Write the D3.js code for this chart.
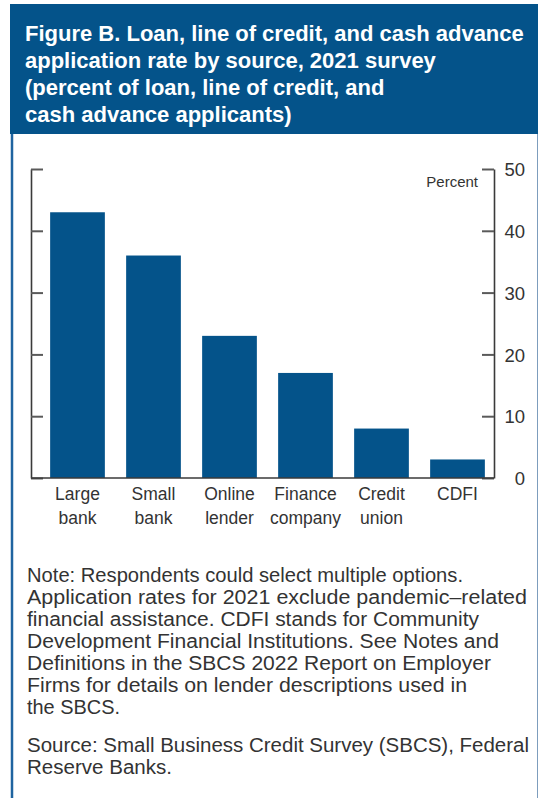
<!DOCTYPE html>
<html>
<head>
<meta charset="utf-8">
<script src="https://cdn.jsdelivr.net/npm/d3@7"></script>
<style>
  html, body { margin: 0; padding: 0; background: #fff; }
  svg { display: block; }
  .cond { font-family: "Liberation Sans Narrow", "Arial Narrow", "Liberation Sans", sans-serif; }
</style>
</head>
<body>
<svg id="chart" width="540" height="798"></svg>
<script>
// Application rate by credit source, 2021 survey (percent of applicants)
const categories = [
  ["Large", "bank"],
  ["Small", "bank"],
  ["Online", "lender"],
  ["Finance", "company"],
  ["Credit", "union"],
  ["CDFI"]
];
const values = [43, 36, 23, 17, 8, 3];
const yTicks = [0, 10, 20, 30, 40, 50];

const titleLines = [
  "Figure B. Loan, line of credit, and cash advance",
  "application rate by source, 2021 survey",
  "(percent of loan, line of credit, and",
  "cash advance applicants)"
];
const noteLines = [
  "Note: Respondents could select multiple options.",
  "Application rates for 2021 exclude pandemic\u2013related",
  "financial assistance. CDFI stands for Community",
  "Development Financial Institutions. See Notes and",
  "Definitions in the SBCS 2022 Report on Employer",
  "Firms for details on lender descriptions used in",
  "the SBCS."
];
const sourceLines = [
  "Source: Small Business Credit Survey (SBCS), Federal",
  "Reserve Banks."
];

// Set widths (px) of the wrapped footnote lines
const noteLineWidths = [436, 500, 452, 472, 464, 440, 93];
const sourceLineWidths = [502, 145];

const BLUE = "#04538a";
const svg = d3.select("#chart");

// Panel frame and title banner
svg.append("rect").attr("x", 10).attr("y", 4).attr("width", 528).attr("height", 130).attr("fill", BLUE);
svg.append("line").attr("x1", 12).attr("x2", 12).attr("y1", 134).attr("y2", 798)
  .attr("stroke", "#1f64a0").attr("stroke-width", 2.5);
svg.append("line").attr("x1", 537.5).attr("x2", 537.5).attr("y1", 134).attr("y2", 798)
  .attr("stroke", "#7d9dbd").attr("stroke-width", 1);

svg.append("g").selectAll("text").data(titleLines).join("text")
  .attr("x", 25).attr("y", (d, i) => 40.5 + i * 27)
  .attr("fill", "#fff")
  .style("font-family", "'Liberation Sans', Arial, sans-serif")
  .style("font-weight", "bold").style("font-size", "22px")
  .text(d => d);

// Plot geometry
const plotLeft = 31, plotRight = 494, plotTop = 169, plotBottom = 478;

const x = d3.scaleBand()
  .domain(d3.range(categories.length))
  .range([39.5, 495.5])
  .paddingInner(0.28)
  .paddingOuter(0.14);

const y = d3.scaleLinear().domain([0, 50]).range([plotBottom, plotTop]);

// Bars
svg.append("g").selectAll("rect").data(values).join("rect")
  .attr("x", (d, i) => x(i))
  .attr("width", x.bandwidth())
  .attr("y", d => y(d))
  .attr("height", d => y(0) - y(d))
  .attr("fill", BLUE);

// Left axis: inward ticks, no labels
const gLeft = svg.append("g").attr("transform", `translate(${plotLeft},0)`)
  .call(d3.axisLeft(y).tickValues(yTicks).tickSize(-12).tickSizeOuter(0).tickFormat(""));
gLeft.select(".domain").attr("stroke", "#3a3a3a").attr("stroke-width", 1.6);
gLeft.selectAll(".tick line").attr("stroke", "#5a5a5a").attr("stroke-width", 2);

// Right axis: inward ticks, labels on the outside
const gRight = svg.append("g").attr("transform", `translate(${plotRight},0)`)
  .call(d3.axisRight(y).tickValues(yTicks).tickSize(-12).tickSizeOuter(0));
gRight.attr("font-family", null).attr("font-size", null);
gRight.select(".domain").attr("stroke", "#3a3a3a").attr("stroke-width", 1.6);
gRight.selectAll(".tick line").attr("stroke", "#5a5a5a").attr("stroke-width", 2);
gRight.selectAll(".tick text")
  .attr("x", 31).attr("dy", "0.36em")
  .attr("text-anchor", "end")
  .attr("fill", "#333")
  .attr("class", "cond")
  .style("font-size", "18.5px");

// Baseline
svg.append("line").attr("x1", plotLeft).attr("x2", plotRight).attr("y1", plotBottom).attr("y2", plotBottom)
  .attr("stroke", "#3a3a3a").attr("stroke-width", 1.6);

// Unit label
svg.append("text").attr("class", "cond")
  .attr("x", 478).attr("y", 187).attr("text-anchor", "end")
  .attr("fill", "#333").style("font-size", "15px")
  .text("Percent");

// Category labels
const cat = svg.append("g").selectAll("text").data(categories).join("text")
  .attr("class", "cond")
  .attr("text-anchor", "middle")
  .attr("fill", "#333")
  .style("font-size", "17.5px")
  .attr("x", (d, i) => x(i) + x.bandwidth() / 2)
  .attr("y", 500);
cat.selectAll("tspan").data(d => d).join("tspan")
  .attr("x", function () { return this.parentNode.getAttribute("x"); })
  .attr("dy", (d, i) => i === 0 ? 0 : 23.5)
  .text(d => d);

// Notes and source
const noteFont = "'Liberation Sans', Arial, sans-serif";
function footLines(lines, widths, y0) {
  svg.append("g").selectAll("text").data(lines).join("text")
    .attr("x", 27).attr("y", (d, i) => y0 + i * 22)
    .attr("textLength", (d, i) => widths[i])
    .attr("lengthAdjust", "spacingAndGlyphs")
    .attr("fill", "#333").style("font-family", noteFont).style("font-size", "20px")
    .text(d => d);
}
footLines(noteLines, noteLineWidths, 582);
footLines(sourceLines, sourceLineWidths, 752);
</script>
</body>
</html>
